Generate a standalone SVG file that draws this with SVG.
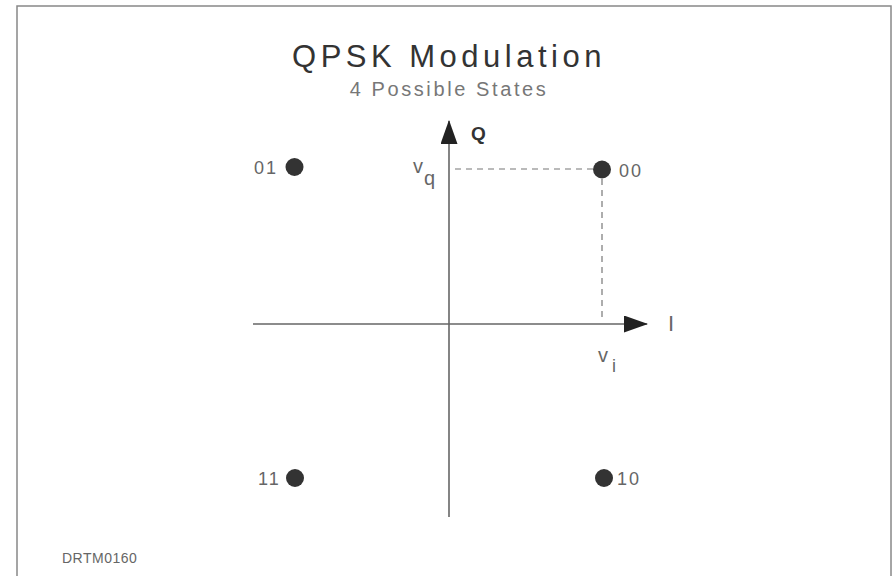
<svg xmlns="http://www.w3.org/2000/svg" width="893" height="576" viewBox="0 0 893 576">
<style>
.t{font-family:"Liberation Sans",Arial,sans-serif;fill:#666}
.ax{stroke:#666;stroke-width:1.6;fill:none}
.dash{stroke:#777;stroke-width:1.2;stroke-dasharray:6,5;fill:none}
.dot{fill:#333}
.lbl{font-size:18px;letter-spacing:2px}
</style>
<defs>
<marker id="ah" markerWidth="24" markerHeight="17" refX="23" refY="8.5" orient="auto" markerUnits="userSpaceOnUse">
<path d="M0,0 L24,8.5 L0,17 Z" fill="#222"/>
</marker>
</defs>
<rect width="893" height="576" fill="#fff"/>
<rect x="17" y="6" width="874" height="580" fill="none" stroke="#888" stroke-width="1.5"/>
<text class="t" x="449" y="67" text-anchor="middle" font-size="31" letter-spacing="4.5" style="fill:#333">QPSK Modulation</text>
<text class="t" x="449" y="96" text-anchor="middle" font-size="20" letter-spacing="2.6" style="fill:#777">4 Possible States</text>
<g id="connectors">
<line class="ax" x1="449" y1="517" x2="449" y2="121" marker-end="url(#ah)"/>
<line class="ax" x1="253" y1="324" x2="647" y2="324" marker-end="url(#ah)"/>
<line class="dash" x1="455" y1="169" x2="594" y2="169"/>
<line class="dash" x1="602" y1="179" x2="602" y2="322"/>
</g>
<g id="labels">
<text class="t" x="471" y="140" font-size="19" font-weight="bold" style="fill:#333">Q</text>
<text class="t" x="668" y="331" font-size="22">I</text>
<text class="t" x="413" y="173" font-size="20">v</text>
<text class="t" x="424" y="185" font-size="20">q</text>
<text class="t" x="598" y="362" font-size="20">v</text>
<text class="t" x="612" y="372" font-size="18">i</text>
</g>
<g id="s01"><circle class="dot" cx="294.5" cy="167" r="9"/><text class="t lbl" x="254" y="174">01</text></g>
<g id="s00"><circle class="dot" cx="602" cy="169.5" r="9"/><text class="t lbl" x="619" y="177">00</text></g>
<g id="s11"><circle class="dot" cx="295" cy="478" r="9"/><text class="t lbl" x="258" y="485">11</text></g>
<g id="s10"><circle class="dot" cx="604" cy="478" r="9"/><text class="t lbl" x="617" y="485">10</text></g>
<text class="t" x="62" y="563" font-size="14" letter-spacing="0.5">DRTM0160</text>
</svg>
